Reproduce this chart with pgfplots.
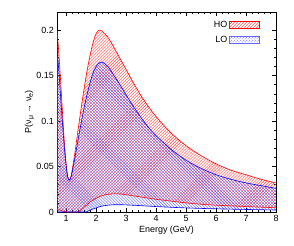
\documentclass[border=0pt]{standalone}
\usepackage{pgfplots}
\pgfplotsset{compat=1.18}
\usepackage{fontspec}
\setmainfont{Liberation Sans}
\usetikzlibrary{patterns,calc}
\usepgfplotslibrary{fillbetween}
\newcommand{\sub}[1]{\raisebox{-0.3ex}{\fontsize{7}{8}\selectfont #1}}
\begin{document}
\fontsize{9}{11}\selectfont
\begin{tikzpicture}
\begin{axis}[
  scale only axis, width=219bp, height=200bp,
  xmin=0.7, xmax=8, ymin=0, ymax=0.22,
  xtick={1,2,3,4,5,6,7,8},
  ytick={0,0.05,0.1,0.15,0.2},
  yticklabels={0,0.05,0.1,0.15,0.2},
  minor x tick num=4, minor y tick num=4,
  tick align=inside, tickpos=both,
  major tick length=4bp, minor tick length=2bp,
  tick style={black, line width=0.5pt},
  axis line style={line width=0.8pt},
  /pgf/number format/assume math mode=true,
  tick label style={font=\fontsize{9}{11}\selectfont},
  xlabel={Energy (GeV)},
  ylabel={P(ν\sub{μ} → ν\sub{e})},
  label style={font=\fontsize{9}{11}\selectfont},
  xlabel style={yshift=2bp},
  ylabel style={yshift=-4bp},
  legend style={draw=none, fill=none, at={(axis description cs:0.94,0.975)}, anchor=north east, row sep=3bp, font=\fontsize{9}{11}\selectfont},
  legend cell align=right,
  legend plot pos=right,
]
\addplot[red, line width=0.6pt, smooth, name path=hoU, forget plot] coordinates {
(0.70,0.200)(0.75,0.180)(0.80,0.155)(0.85,0.128)(0.90,0.100)(0.95,0.075)(1.00,0.055)(1.05,0.040)(1.10,0.035)(1.15,0.037)(1.20,0.045)(1.30,0.066)(1.40,0.090)(1.50,0.113)(1.60,0.135)(1.70,0.155)(1.80,0.172)(1.90,0.186)(2.00,0.196)(2.10,0.200)(2.20,0.199)(2.40,0.192)(2.60,0.181)(2.80,0.169)(3.00,0.157)(3.25,0.142)(3.50,0.128)(3.75,0.116)(4.00,0.105)(4.50,0.087)(5.00,0.073)(5.50,0.062)(6.00,0.053)(6.50,0.046)(7.00,0.041)(7.50,0.036)(8.00,0.032)};
\addplot[red, line width=0.6pt, smooth, name path=hoL, forget plot] coordinates {
(0.70,0.003)(0.80,0.002)(0.90,0.001)(1.00,0.000)(1.40,0.000)(1.50,0.002)(1.60,0.005)(1.70,0.008)(1.80,0.011)(2.00,0.015)(2.20,0.018)(2.40,0.0195)(2.60,0.020)(2.80,0.0198)(3.00,0.019)(3.50,0.0165)(4.00,0.014)(4.50,0.012)(5.00,0.010)(5.50,0.0085)(6.00,0.0075)(7.00,0.006)(8.00,0.0047)};
\addplot[blue, line width=0.6pt, smooth, name path=loU, forget plot] coordinates {
(0.70,0.180)(0.75,0.160)(0.80,0.137)(0.85,0.113)(0.90,0.090)(0.95,0.069)(1.00,0.052)(1.05,0.040)(1.10,0.035)(1.15,0.037)(1.20,0.043)(1.30,0.060)(1.40,0.079)(1.50,0.097)(1.60,0.114)(1.70,0.129)(1.80,0.142)(1.90,0.153)(2.00,0.160)(2.10,0.164)(2.20,0.165)(2.40,0.160)(2.60,0.150)(2.80,0.140)(3.00,0.129)(3.25,0.116)(3.50,0.104)(3.75,0.093)(4.00,0.084)(4.50,0.069)(5.00,0.057)(5.50,0.048)(6.00,0.041)(6.50,0.036)(7.00,0.032)(7.50,0.029)(8.00,0.026)};
\addplot[blue, line width=0.6pt, smooth, name path=loL, forget plot] coordinates {
(0.70,0.000)(1.60,0.000)(1.70,0.0005)(1.80,0.002)(2.00,0.0045)(2.20,0.0065)(2.40,0.0075)(2.60,0.008)(2.80,0.008)(3.00,0.0078)(3.50,0.007)(4.00,0.006)(5.00,0.0045)(6.00,0.0035)(7.00,0.0028)(8.00,0.0022)};
\addplot[pattern=north east lines, pattern color=red!75, draw=none, forget plot] fill between[of=hoU and hoL];
\addplot[pattern=north west lines, pattern color=blue!65, draw=none, forget plot] fill between[of=loU and loL];
\addlegendimage{legend image code/.code={\draw[draw=red, pattern=north east lines, pattern color=red!75] (0bp,-3.5bp) rectangle (30bp,3.5bp);}}
\addlegendentry{HO}
\addlegendimage{legend image code/.code={\draw[draw=blue!60, pattern=crosshatch dots, pattern color=blue!60] (0bp,-3.5bp) rectangle (30bp,3.5bp);}}
\addlegendentry{LO}
\end{axis}
\pgfresetboundingbox
\path ($(current axis.south west)+(-57bp,-33bp)$) rectangle ($(current axis.north east)+(18bp,12bp)$);
\end{tikzpicture}
\end{document}
